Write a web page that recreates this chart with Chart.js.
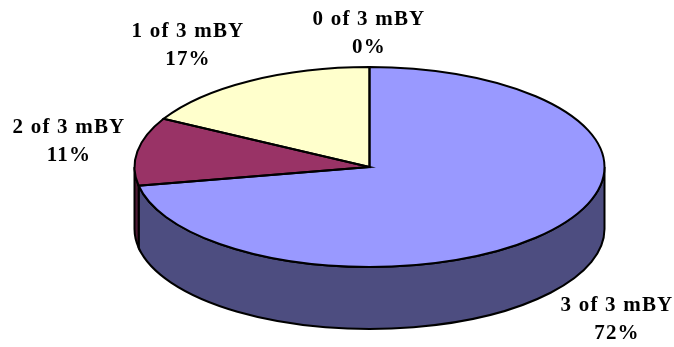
<!DOCTYPE html>
<html>
<head>
<meta charset="utf-8">
<title>mBY pie</title>
<script src="https://cdn.jsdelivr.net/npm/chart.js@4"></script>
<style>
    html, body { margin: 0; padding: 0; background: #fff; }
    canvas { display: block; }
</style>
</head>
<body>
<canvas id="pie" width="674" height="347"></canvas>
<script>
// Slices, clockwise from 12 o'clock
const categories = ['3 of 3 mBY', '2 of 3 mBY', '1 of 3 mBY', '0 of 3 mBY'];
const shares = [72, 11, 17, 0];
const topColors = ['#9999FF', '#993366', '#FFFFCC', '#CCFFFF'];
const sideColors = ['#4D4D80', '#4D1A33', '#808066', '#668080'];

// Label centres in page pixels, one per category
const labelSpots = [[617, 306], [69, 128], [188, 32], [369, 20]];

const RADIUS = 235;
const SQUASH = 0.4255;
const DEPTH = 62;

function tracePie(ctx, arc) {
    ctx.beginPath();
    ctx.moveTo(arc.x, arc.y);
    ctx.ellipse(arc.x, arc.y, RADIUS, RADIUS * SQUASH, 0, arc.startAngle, arc.endAngle);
    ctx.closePath();
}

const tiltedPie = {
    id: 'tiltedPie',
    beforeDatasetsDraw(chart) {
        const ctx = chart.ctx;
        const arcs = chart.getDatasetMeta(0).data;
        const ry = RADIUS * SQUASH;

        // Side wall: only the part of each slice on the front half shows
        arcs.forEach((arc, i) => {
            const from = Math.max(arc.startAngle, 0);
            const to = Math.min(arc.endAngle, Math.PI);
            if (to <= from) return;
            ctx.beginPath();
            ctx.ellipse(arc.x, arc.y, RADIUS, ry, 0, from, to);
            ctx.ellipse(arc.x, arc.y + DEPTH, RADIUS, ry, 0, to, from, true);
            ctx.closePath();
            ctx.fillStyle = sideColors[i];
            ctx.fill();
            ctx.strokeStyle = '#000';
            ctx.lineWidth = 2;
            ctx.stroke();
        });

        // Squash the library's own arcs into an ellipse
        const c = arcs[0];
        ctx.save();
        ctx.translate(c.x, c.y);
        ctx.scale(1, SQUASH);
        ctx.translate(-c.x, -c.y);
    },
    afterDatasetsDraw(chart) {
        const ctx = chart.ctx;
        ctx.restore();

        // Outlines go on after the restore so the pen stays round
        chart.getDatasetMeta(0).data.forEach(arc => {
            if (arc.endAngle - arc.startAngle <= 0) return;
            tracePie(ctx, arc);
            ctx.strokeStyle = '#000';
            ctx.lineWidth = 2;
            ctx.stroke();
        });

        ctx.fillStyle = '#000';
        ctx.font = 'bold 21px "Liberation Serif"';
        ctx.letterSpacing = '1.2px';
        ctx.textAlign = 'center';
        ctx.textBaseline = 'middle';
        categories.forEach((name, i) => {
            const [x, y] = labelSpots[i];
            ctx.fillText(name, x, y);
            ctx.fillText(shares[i] + '%', x, y + 28);
        });
    }
};

new Chart(document.getElementById('pie'), {
    type: 'pie',
    data: {
        labels: categories,
        datasets: [{
            data: shares,
            backgroundColor: topColors,
            borderWidth: 0,
            radius: RADIUS
        }]
    },
    options: {
        responsive: false,
        animation: false,
        layout: { padding: { left: 65, bottom: 13 } },
        plugins: {
            legend: { display: false },
            tooltip: { enabled: false }
        }
    },
    plugins: [tiltedPie]
});
</script>
</body>
</html>
